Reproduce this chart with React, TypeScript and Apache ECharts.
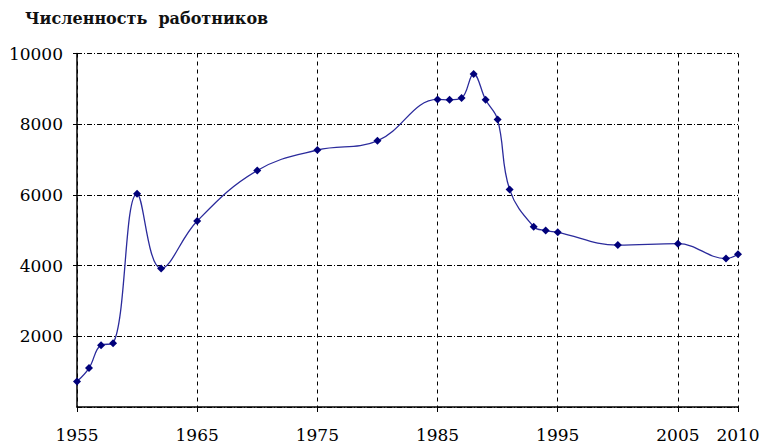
import React, { useEffect, useRef } from "react";
import * as echarts from "echarts";

const titleText = "Численность  работников";
const years = [1955, 1956, 1957, 1958, 1960, 1962, 1965, 1970, 1975, 1980, 1985, 1986, 1987, 1988, 1989, 1990, 1991, 1993, 1994, 1995, 2000, 2005, 2009, 2010];
const workers = [720, 1100, 1750, 1800, 6030, 3920, 5260, 6690, 7270, 7530, 8700, 8690, 8740, 9420, 8690, 8130, 6150, 5100, 4990, 4940, 4580, 4620, 4200, 4320];
const startYear = 1955;
const endYear = 2010;
const yMax = 10000;
const yStep = 2000;
const xStep = 10;

const SERIF = "DejaVu Serif";

export default function App() {
  const ref = useRef<HTMLDivElement>(null);
  useEffect(() => {
    if (!ref.current) return;
    const chart = echarts.init(ref.current, null, { renderer: "svg" });
    const labelFont = { fontFamily: SERIF, fontSize: 17, color: "#000" };
    chart.setOption({
      animation: false,
      backgroundColor: "#fff",
      title: {
        text: titleText,
        left: 20,
        top: 5,
        textStyle: { fontFamily: SERIF, fontSize: 16, fontWeight: "bold", color: "#111" },
      },
      grid: { left: 77, right: 27, top: 53.5, bottom: 31 },
      xAxis: {
        type: "value",
        min: 0,
        max: endYear - startYear,
        interval: xStep,
        axisLine: { show: true, lineStyle: { color: "#000", width: 1.5 } },
        axisTick: { show: true, length: 5, lineStyle: { color: "#000" } },
        axisLabel: { ...labelFont, margin: 19, showMaxLabel: true, showMinLabel: true, hideOverlap: false, formatter: (v: number) => String(v + startYear) },
        splitLine: { show: true, lineStyle: { color: "#000", type: [4, 4], width: 1 } },
      },
      yAxis: {
        type: "value",
        min: 0,
        max: yMax,
        interval: yStep,
        axisLine: { show: true, lineStyle: { color: "#000", width: 1.5 } },
        axisTick: { show: true, length: 4, lineStyle: { color: "#000" } },
        axisLabel: { ...labelFont, margin: 14, showMinLabel: false, formatter: (v: number) => String(v) },
        splitLine: { show: true, lineStyle: { color: "#000", type: [5, 2, 1, 2], width: 1 } },
      },
      series: [
        {
          type: "line",
          smooth: 0.4,
          data: years.map((y, i) => [y - startYear, workers[i]]),
          symbol: "diamond",
          symbolSize: 8,
          lineStyle: { color: "#2b2b9c", width: 1.3 },
          itemStyle: { color: "#00007a" },
        },
      ],
    });
    return () => chart.dispose();
  }, []);
  return <div ref={ref} style={{ width: 765, height: 443, position: "absolute", left: 0, top: 0 }} />;
}
